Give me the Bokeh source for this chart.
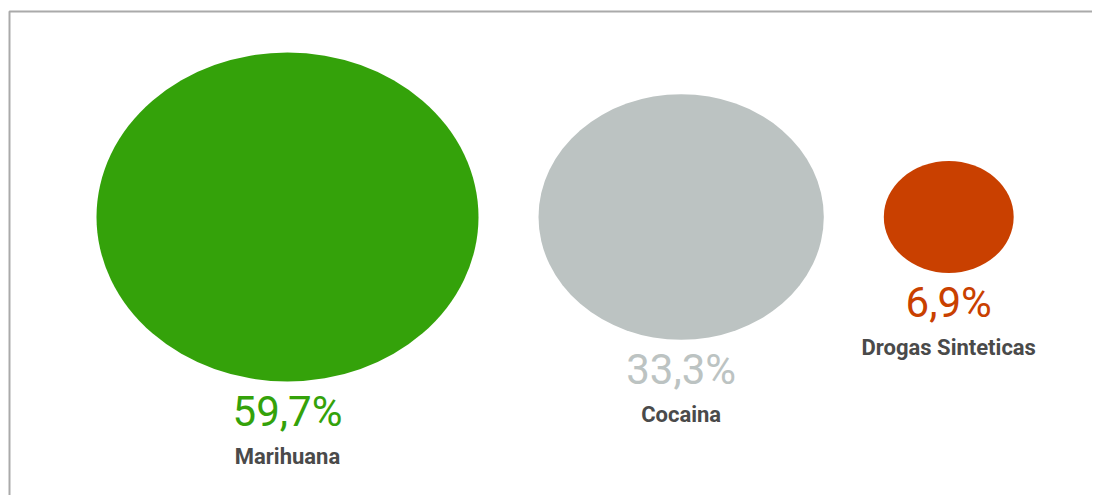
import math
from bokeh.plotting import figure
from bokeh.models import Range1d, ColumnDataSource
from bokeh.core.properties import value
from bokeh.embed import file_html
from bokeh.resources import INLINE

categories = ["Marihuana", "Cocaina", "Drogas Sinteticas"]
percentages = [59.7, 33.3, 6.9]
pct_labels = ["59,7%", "33,3%", "6,9%"]
colors = ["#34a20a", "#bcc3c2", "#c94000"]

W, H = 1092, 495
p = figure(width=W, height=H, output_backend="svg", toolbar_location=None,
           x_range=Range1d(0, W), y_range=Range1d(H, 0),
           x_axis_type=None, y_axis_type=None, min_border=0)
p.outline_line_color = None
p.grid.visible = False
p.background_fill_color = "white"

# layout: diameters proportional to sqrt(value), packed left to right
kw, kh = 49.44, 42.58
widths = [kw * math.sqrt(v) for v in percentages]
heights = [kh * math.sqrt(v) for v in percentages]
gap = 60
start = 96
xs = []
cur = start
for w in widths:
    xs.append(cur + w / 2)
    cur += w + gap
cy = 216.5
ys = [cy] * len(percentages)
bottoms = [cy + h / 2 for h in heights]

src = ColumnDataSource(dict(x=xs, y=ys, w=widths, h=heights, c=colors,
                            pct=pct_labels, name=categories,
                            py=[b + 5.5 for b in bottoms],
                            ny=[b + 62.5 for b in bottoms]))

p.ellipse(x="x", y="y", width="w", height="h", fill_color="c",
          line_color=None, source=src)

p.text(x="x", y="py", text="pct", text_color="c", source=src,
       text_font=value("Roboto"), text_font_size="42px",
       text_align="center", text_baseline="top")
p.text(x="x", y="ny", text="name", text_color="#4a4a4a", source=src,
       text_font=value("Roboto"), text_font_size="22px", text_font_style="bold",
       text_align="center", text_baseline="top")

# frame border (top and left visible)
p.line(x=[9, 9, W], y=[H, 11, 11], line_color="#aaaaaa", line_width=2)

open("out.html", "w").write(file_html(p, INLINE))
